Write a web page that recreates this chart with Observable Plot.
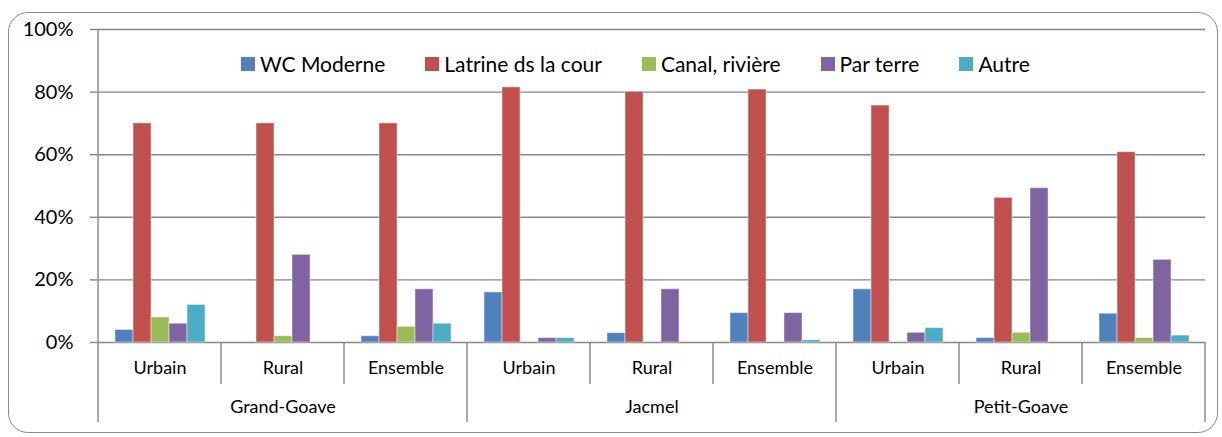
<!DOCTYPE html>
<html><head><meta charset="utf-8">
<script src="https://cdn.jsdelivr.net/npm/d3@7"></script>
<script src="https://cdn.jsdelivr.net/npm/@observablehq/plot@0.6"></script>
<style>
body{margin:0;background:#fff;font-family:Lato,"Open Sans",sans-serif;}
#wrap{position:relative;width:1222px;height:437px;overflow:hidden;}
#border{position:absolute;left:8px;top:12px;width:1210px;height:421px;border:1.5px solid #8c8c8c;border-radius:20px;box-sizing:border-box;pointer-events:none;}
#legend{position:absolute;left:241px;top:53px;display:flex;gap:40px;font-size:21px;color:#000;line-height:22px;}
#legend .item{display:flex;align-items:center;gap:5px;}
#legend .sw{width:14px;height:14px;display:inline-block;}
#chart{position:absolute;left:0;top:0;}
</style></head>
<body>
<div id="wrap">
  <div id="chart"></div>
  <div id="border"></div>
  <div id="legend"></div>
</div>
<script>
const communes = ["Grand-Goave", "Jacmel", "Petit-Goave"];
const zones = ["Urbain", "Rural", "Ensemble"];
const series = ["WC Moderne", "Latrine ds la cour", "Canal, rivière", "Par terre", "Autre"];
const colors = ["#4F81BD", "#C0504D", "#9BBB59", "#8064A2", "#4BACC6"];
const yTicks = [0, 20, 40, 60, 80, 100];

// values in %, order: Grand-Goave (Urbain, Rural, Ensemble), Jacmel (...), Petit-Goave (...)
const wcModerne = [4, 0, 2, 16, 3, 9.4, 17, 1.4, 9.2];
const latrine   = [70, 70, 70, 81.5, 80.1, 80.8, 75.7, 46.2, 60.8];
const canal     = [8, 2, 5, 0, 0, 0, 0, 3.1, 1.4];
const parTerre  = [6, 28, 17, 1.4, 17, 9.4, 3.1, 49.3, 26.4];
const autre     = [12, 0, 6, 1.4, 0, 0.7, 4.6, 0, 2.2];

const seriesValues = [wcModerne, latrine, canal, parTerre, autre];
const keys = [];
communes.forEach(c => zones.forEach(z => keys.push(c + "|" + z)));
const rows = [];
keys.forEach((k, i) => series.forEach((s, j) => rows.push({key: k, series: s, value: seriesValues[j][i]})));

const font = "Lato, 'Open Sans', sans-serif";
const gray = "#868686";

const plot = Plot.plot({
  width: 1222, height: 437,
  marginLeft: 95, marginRight: 15, marginTop: 29, marginBottom: 95,
  style: {fontFamily: font, background: "transparent", color: "#000"},
  fx: {domain: keys, padding: 0, axis: null, label: null},
  x: {domain: series, paddingInner: 0, paddingOuter: 0.75, axis: null, label: null},
  y: {domain: [0, 100], axis: null, label: null},
  color: {domain: series, range: colors},
  marks: [
    Plot.gridY(yTicks, {stroke: gray, strokeOpacity: 1, strokeWidth: 1.4}),
    Plot.axisY(yTicks, {label: null, tickFormat: d => d + "%", tickSize: 8, tickPadding: 17, fontSize: 20, stroke: gray, strokeWidth: 1.4, fill: "#000"}),
    Plot.barY(rows, {fx: "key", x: "series", y: "value", fill: "series", stroke: "#fff", strokeOpacity: 0.45, strokeWidth: 1}),
    Plot.axisFx({anchor: "bottom", label: null, tickFormat: k => k.split("|")[1], tickSize: 0, tickPadding: 19, fontSize: 18, fill: "#000"}),
    Plot.text(communes, {fx: c => c + "|" + zones[1], text: d => d, frameAnchor: "bottom", dy: 70, fontSize: 18, fill: "#000"})
  ]
});

// axis / category separators from the library's scales
const fx = plot.scale("fx"), y = plot.scale("y");
const y0 = y.apply(0), yTop = y.apply(100);
const g = d3.select(plot).append("g").attr("stroke", gray).attr("stroke-width", 1.4);
const left = fx.apply(keys[0]);
g.append("line").attr("x1", left).attr("x2", left).attr("y1", yTop).attr("y2", y0);
keys.forEach((k, i) => {
  const x = fx.apply(k);
  const long = i % zones.length === 0;
  g.append("line").attr("x1", x).attr("x2", x).attr("y1", y0).attr("y2", y0 + (long ? 80 : 42));
});
const right = fx.apply(keys[keys.length - 1]) + fx.bandwidth;
g.append("line").attr("x1", right).attr("x2", right).attr("y1", y0).attr("y2", y0 + 80);

document.getElementById("chart").appendChild(plot);

const legend = d3.select("#legend");
series.forEach((s, i) => {
  const it = legend.append("div").attr("class", "item");
  it.append("span").attr("class", "sw").style("background", colors[i]);
  it.append("span").text(s);
});
</script>
</body></html>
